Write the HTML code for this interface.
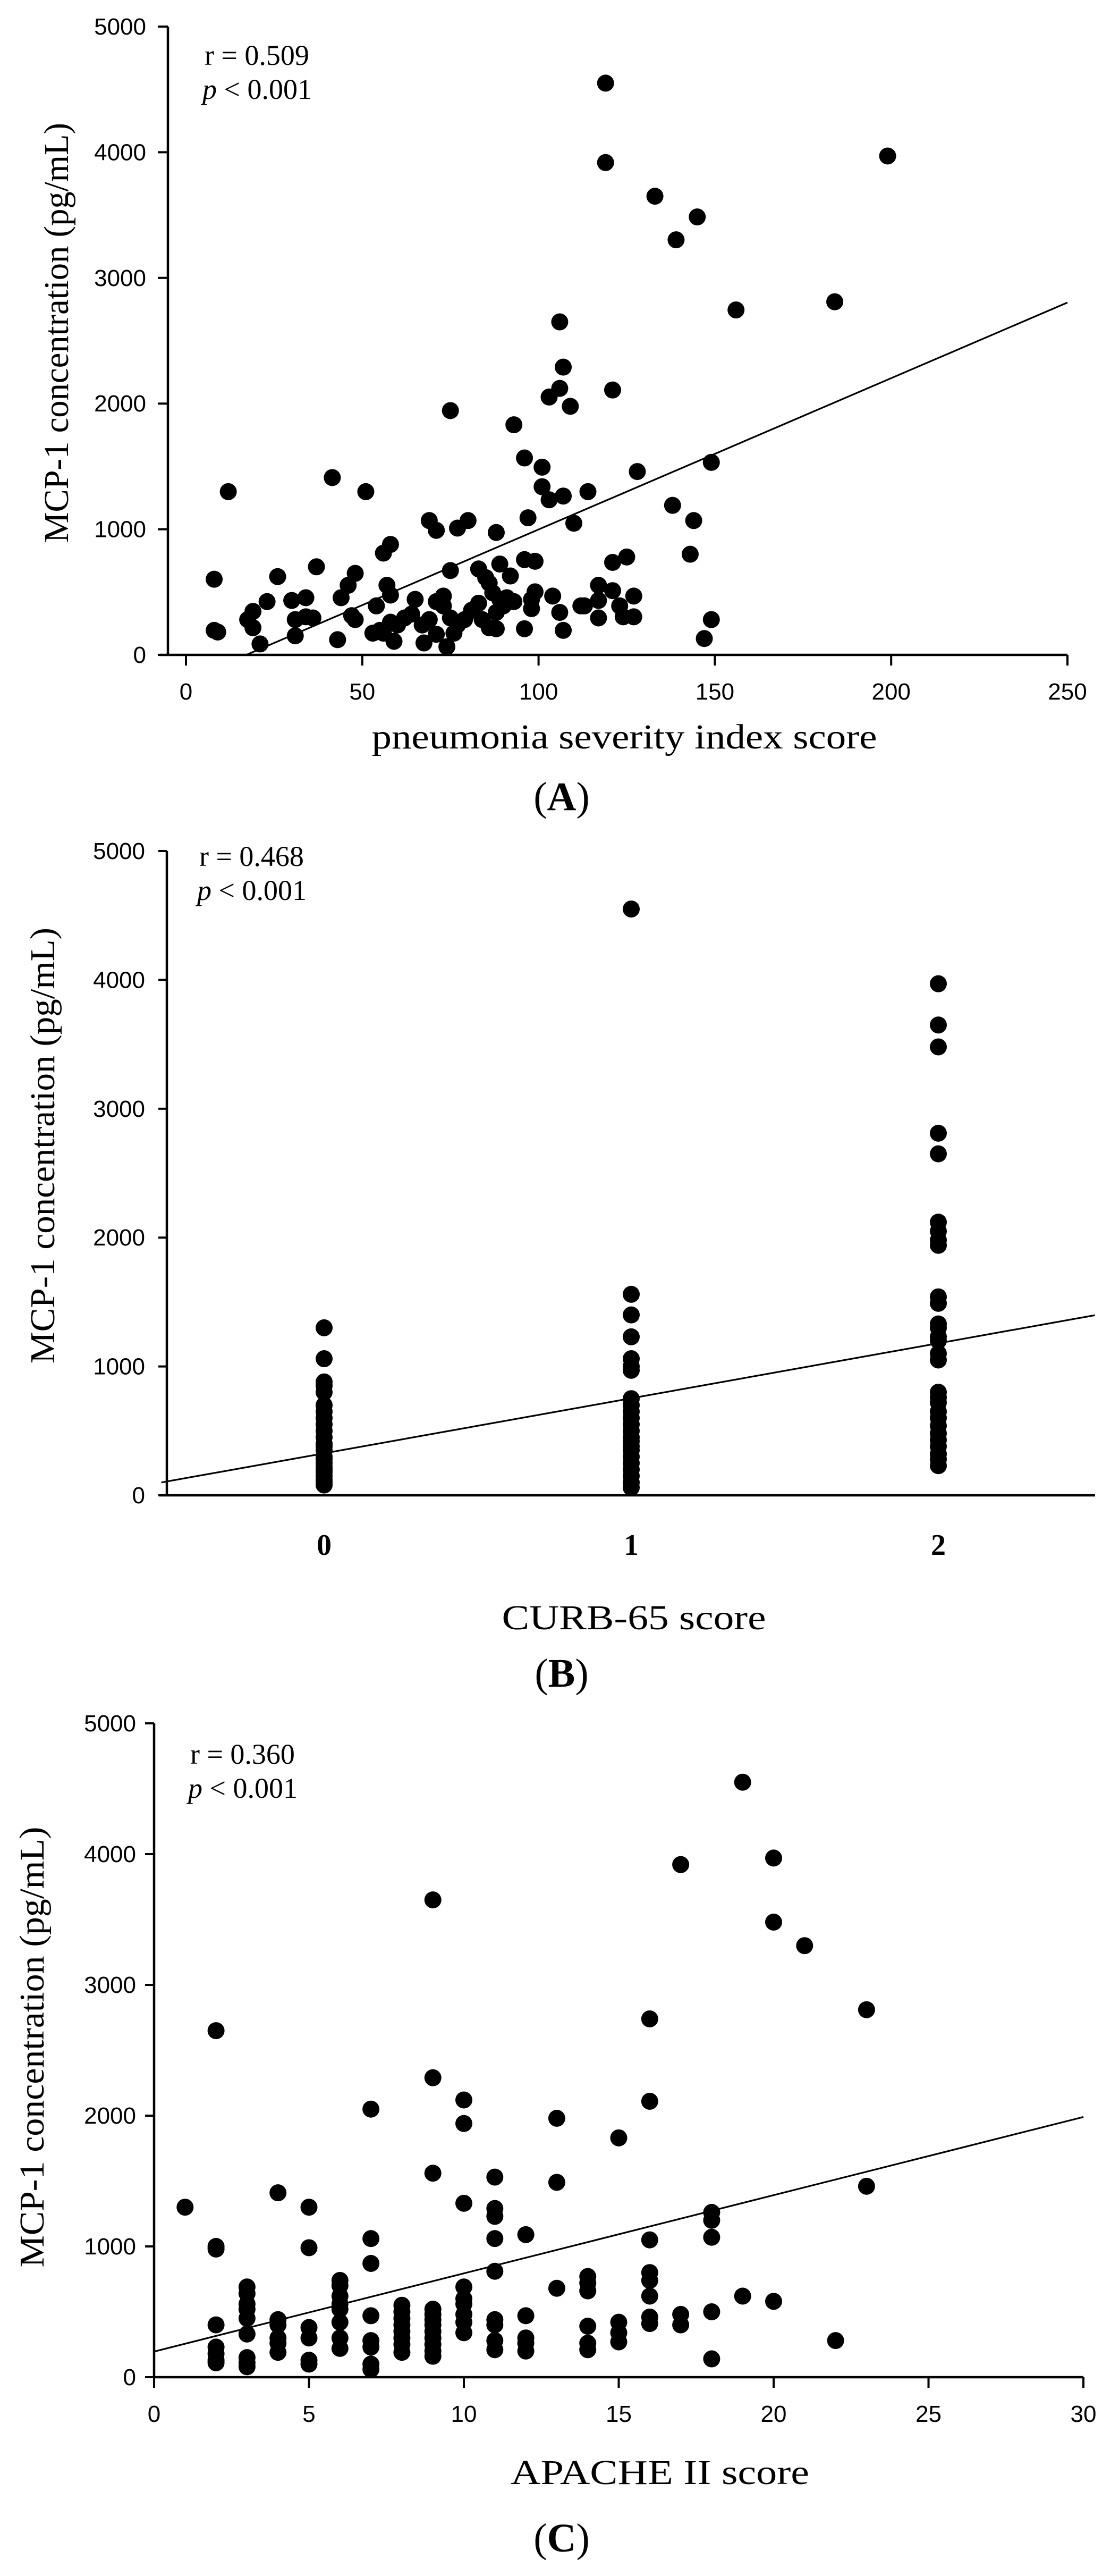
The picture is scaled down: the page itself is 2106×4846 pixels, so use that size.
<!DOCTYPE html>
<html><head><meta charset="utf-8"><style>
html,body{margin:0;padding:0;background:#fff}
svg{display:block}
text{fill:#000}
.tk{font-family:"Liberation Sans",sans-serif;font-size:44px}
.sf{font-family:"Liberation Serif",serif}
</style></head><body>
<svg id="fig" width="2106" height="4846" viewBox="0 0 2106 4846" xmlns="http://www.w3.org/2000/svg"></svg>
<script>
// Panel A: PSI score vs MCP-1
const psiX=[119,119,199,133,145,139,156,184,106,107,106,121,103,109,75,93,96,101,149,128,101,103,107,114,138,12,41.5,51,97,110,144,69,71,77,80,88,58,56,143,125,121,96,99,89,75,83,85,8,26,37,48,46,57,58,92,86,87,99,121,127,117,117,123,113,104,106,98,93,91,89,88,83,81,79,77,75,73,71,73,69,67,65,62,60,58,56,53,54,48,47,44,43,34,36,30,31,31,23,19,17.5,19,21,9,71,76,59,67.5,74,84,86,88,96,107,117,124,127,147,149,112,98,90,64,55,34,8];
const psiY=[4550,3918,3970,3650,3485,3303,2745,2810,2650,2290,2121,2108,2052,1978,1944,1831,1567,1494,1532,1459,1338,1234,1264,1299,1190,1299,1411,1299,1091,1048,1069,1069,991,1009,1069,974,879,810,801,779,736,758,745,723,671,684,615,602,623,701,649,554,554,476,628,571,494,502,511,468,554,433,390,390,468,338,442,424,455,442,338,411,355,281,238,294,390,424,468,281,238,442,294,238,260,173,173,390,281,312,455,121,455,294,433,281,152,424,346,281,216,87,182,164,173,108,95,65,281,216,208,208,195,294,303,303,130,281,390,368,390,325,195,303,195];
const psiTicks=[0,50,100,150,200,250];
const yTicks=[0,1000,2000,3000,4000,5000];
const fitA=[12.04,-206]; // slope, intercept
// Panel B: CURB-65 vs MCP-1
const curbCats=["0","1","2"];
const curb0=[1300,1060,880,850,800,700,650,600,550,500,450,400,380,350,300,280,250,220,200,180,150,120,100,80];
const curb1=[4550,1560,1400,1230,1060,1000,970,750,700,650,600,550,500,450,420,380,350,300,250,200,150,100,60];
const curb2=[3970,3650,3480,2810,2650,2120,2050,1980,1940,1540,1490,1330,1300,1230,1200,1100,1050,800,760,720,650,600,540,480,430,380,320,280,230];
const fitB=[427,326];
// Panel C: APACHE II vs MCP-1
const apacheX=[1,2,2,2,2,2,2,2,2,3,3,3,3,3,3,3,3,3,4,4,4,4,4,4,5,5,5,5,5,5,6,6,6,6,6,6,6,6,7,7,7,7,7,7,7,7,8,8,8,8,8,8,8,8,9,9,9,9,9,9,9,9,9,9,9,9,10,10,10,10,10,10,10,10,10,11,11,11,11,11,11,11,11,11,12,12,12,12,12,13,13,13,14,14,14,14,14,14,15,15,15,15,16,16,16,16,16,16,16,16,17,17,17,18,18,18,18,18,19,19,20,20,20,21,22,23,23];
const apacheY=[1300,2650,1000,980,400,230,180,130,110,690,640,560,520,450,330,150,110,80,1410,440,400,300,260,190,1300,990,380,300,130,100,740,700,620,560,520,420,300,220,2050,1060,870,470,280,230,100,60,550,500,450,400,350,300,250,190,3650,2290,1560,520,480,440,400,350,300,250,200,160,2120,1940,1330,690,600,560,480,420,340,1530,1290,1230,1060,810,440,400,280,210,1090,470,300,260,200,1980,1490,680,770,720,660,390,260,210,1830,420,340,270,2740,2110,1050,800,740,620,460,410,3920,480,400,1260,1200,1070,500,140,4550,620,3970,3480,580,3300,280,2810,1460];
const apacheTicks=[0,5,10,15,20,25,30];
const fitC=[59.8,196];

const NS="http://www.w3.org/2000/svg";
const svg=document.getElementById('fig');
function mk(tag,attrs,parent,txt){const e=document.createElementNS(NS,tag);for(const k in attrs)e.setAttribute(k,attrs[k]);if(txt!==undefined)e.textContent=txt;(parent||svg).appendChild(e);return e;}
function grp(name){const g=mk('g',{});return g;}

function panel(cfg){
  const g=grp(cfg.name);
  const ax=mk('g',{},g);
  
  
  mk('line',{x1:cfg.yAxisX,y1:cfg.sy(5000),x2:cfg.yAxisX,y2:cfg.sy(0)+2,stroke:'#000','stroke-width':4.5},ax);
  yTicks.forEach(v=>{
    const y=cfg.sy(v);
    mk('line',{x1:cfg.yTickL,y1:y,x2:cfg.yAxisX,y2:y,stroke:'#000','stroke-width':4},ax);
    const t=mk('text',{x:cfg.yLabX,y:y+15,'text-anchor':'end',class:'tk'},ax,String(v));
    
    
  });
  const xa=mk('g',{},g);
  
  
  mk('line',{x1:cfg.xAxisL,y1:cfg.sy(0),x2:cfg.xAxisR,y2:cfg.sy(0),stroke:'#000','stroke-width':4.5},xa);
  if(cfg.xTicks){cfg.xTicks.forEach(v=>{
    const x=cfg.sx(v);
    mk('line',{x1:x,y1:cfg.sy(0),x2:x,y2:cfg.sy(0)+20,stroke:'#000','stroke-width':4},xa);
    const t=mk('text',{x:x,y:cfg.xLabY,'text-anchor':'middle',class:'tk'},xa,String(v));
    
    
  });}
  if(cfg.cats){cfg.cats.forEach((c,i)=>{
    const t=mk('text',{x:cfg.sx(i),y:cfg.xLabY,'text-anchor':'middle',class:'sf','font-size':56,'font-weight':'bold'},xa,c);
    
    
  });}
  const pts=mk('g',{},g);
  
  
  cfg.xs.forEach((xv,i)=>{
    const c=mk('circle',{cx:cfg.sx(xv),cy:cfg.sy(cfg.ys[i]),r:16,fill:'#000'},pts);
    
    
  });
  const x0=cfg.fitFrom, x1=cfg.fitTo;
  const fl=mk('line',{x1:cfg.sx(x0),y1:cfg.sy(cfg.fit[0]*x0+cfg.fit[1]),x2:cfg.sx(x1),y2:cfg.sy(cfg.fit[0]*x1+cfg.fit[1]),stroke:'#000','stroke-width':3.2},g);
  
  
  const r=mk('text',{x:cfg.annX,y:cfg.annY,class:'sf','font-size':54},g,cfg.r);
  
  
  const p=mk('text',{x:cfg.annX-4,y:cfg.annY+64,class:'sf','font-size':54},g);
  
  
  mk('tspan',{'font-style':'italic'},p,'p');
  mk('tspan',{},p,' < 0.001');
  const yt=mk('text',{x:0,y:0,class:'sf','font-size':66,'text-anchor':'middle',textLength:cfg.yTitleLen,lengthAdjust:'spacingAndGlyphs',transform:`translate(${cfg.yTitleX},${cfg.yTitleY}) rotate(-90)`},g,'MCP-1 concentration (pg/mL)');
  
  
  const xt=mk('text',{x:cfg.xTitleX,y:cfg.xTitleY,class:'sf','font-size':66,'text-anchor':'middle',textLength:cfg.xTitleLen,lengthAdjust:'spacingAndGlyphs'},g,cfg.xTitle);
  
  
  const pl=mk('text',{x:1057,y:cfg.labelY,class:'sf','font-size':76,'text-anchor':'middle'},g);
  
  
  mk('tspan',{},pl,'(');
  mk('tspan',{'font-weight':'bold'},pl,cfg.label);
  mk('tspan',{},pl,')');
}

panel({name:'panel-a',sx:v=>350+v*6.636,sy:v=>1232-v*0.2364,yAxisX:316,yTickL:297,yLabX:275,xAxisL:300,xAxisR:2009,
  xTicks:psiTicks,xLabY:1316,xs:psiX,ys:psiY,fit:fitA,fitFrom:17.1,fitTo:250,r:'r = 0.509',annX:385,annY:122,
  yTitleX:128,yTitleY:626,yTitleLen:790,xTitle:'pneumonia severity index score',xTitleX:1175,xTitleY:1408,xTitleLen:951,label:'A',labelY:1524});

const curbX=[],curbY=[];
[curb0,curb1,curb2].forEach((arr,c)=>arr.forEach(v=>{curbX.push(c);curbY.push(v);}));
panel({name:'panel-b',sx:v=>610+v*578,sy:v=>2813-v*0.2424,yAxisX:314,yTickL:298,yLabX:273,xAxisL:300,xAxisR:2061,
  cats:curbCats,xLabY:2925,xs:curbX,ys:curbY,fit:fitB,fitFrom:-0.53,fitTo:2.51,r:'r = 0.468',annX:375,annY:1629,
  yTitleX:102,yTitleY:2155,yTitleLen:820,xTitle:'CURB-65 score',xTitleX:1193,xTitleY:3065,xTitleLen:497,label:'B',labelY:3173});

panel({name:'panel-c',sx:v=>290+v*58.3,sy:v=>4472-v*0.246,yAxisX:290,yTickL:273,yLabX:256,xAxisL:290,xAxisR:2039,
  xTicks:apacheTicks,xLabY:4556,xs:apacheX,ys:apacheY,fit:fitC,fitFrom:0,fitTo:30,r:'r = 0.360',annX:358,annY:3318,
  yTitleX:82,yTitleY:3851,yTitleLen:829,xTitle:'APACHE II score',xTitleX:1242,xTitleY:4673,xTitleLen:562,label:'C',labelY:4800});
</script>
</body></html>
